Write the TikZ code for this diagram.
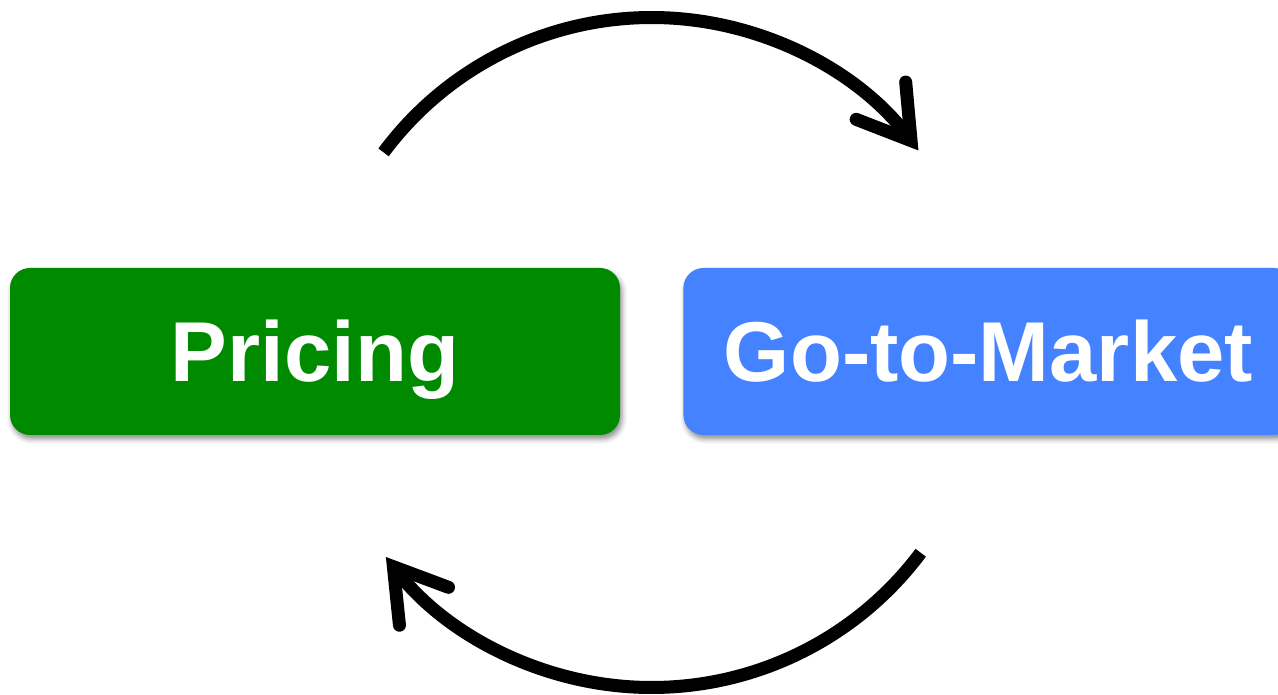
\documentclass[tikz,border=0pt]{standalone}
\usepackage{fontspec}
\setmainfont{Liberation Sans}
\usepackage{xcolor}
\usetikzlibrary{arrows.meta,positioning,shadows.blur,calc}
\definecolor{priceGreen}{HTML}{008A00}
\definecolor{gtmBlue}{HTML}{4482FF}

\begin{document}
\begin{tikzpicture}[
		    x=1pt, y=1pt,
		    node distance=63pt,
		    stage/.style={rectangle, rounded corners=20pt, minimum width=610pt, minimum height=167pt, inner sep=0pt, text=white, text height=61pt, text depth=0pt, font=\fontsize{85pt}{100pt}\selectfont\bfseries, blur shadow={shadow xshift=2pt, shadow yshift=-4pt, shadow blur radius=5pt, shadow opacity=45}},
		    cyc/.style={line width=13pt, -{Straight Barb[length=50pt, width=62pt, line cap=round, line join=miter]}},
		]
		    \clip (0,0) rectangle (1278,694);
		    
		    % Boxes
		    \node [stage, fill=priceGreen] (pricing) at (315,342.5) {Pricing};
		    \node [stage, fill=gtmBlue, right=of pricing] (gtm) {Go-to-Market};
		    
		    % Centre of the cycle
		    \coordinate (hub) at ($(pricing)!0.5!(gtm)$);
		    \coordinate (topstart) at ([shift={(143.4:334)}]hub);
		    \coordinate (botstart) at ([shift={(-36.8:336)}]hub);
		    
		    % Cycle arrows
		    \draw [cyc] (topstart) arc [start angle=143.4, end angle=37, radius=334];
		    \draw [cyc] (botstart) arc [start angle=-36.8, end angle=-142.3, radius=336];
		\end{tikzpicture}
\end{document}
